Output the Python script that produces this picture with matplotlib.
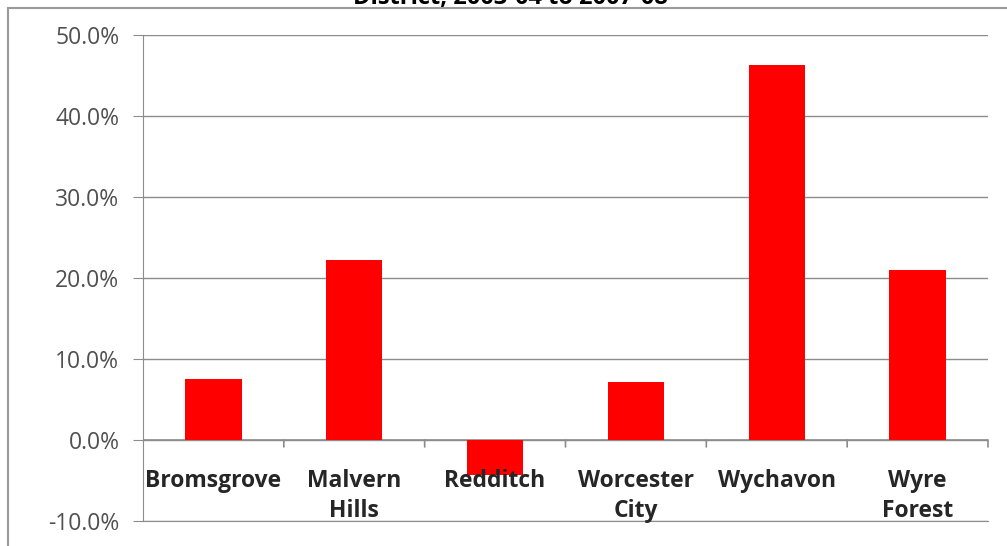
import matplotlib.pyplot as plt
from matplotlib.patches import Rectangle
from matplotlib.ticker import FuncFormatter

plt.rcParams['font.family'] = ['Open Sans', 'DejaVu Sans']

districts = ['Bromsgrove', 'Malvern\nHills', 'Redditch', 'Worcester\nCity', 'Wychavon', 'Wyre\nForest']
change_pct = [7.5, 22.2, -4.3, 7.2, 46.3, 21.0]
title = 'District, 2003-04 to 2007-08'

fig = plt.figure(figsize=(10.07, 5.46), dpi=100)

# chart frame (left edge and rule under the title)
fig.patches.append(Rectangle((8 / 1007, -0.1), 1.2, 1.1 - 8 / 546, transform=fig.transFigure,
                             fill=False, edgecolor='#9a9a9a', linewidth=1.5, zorder=0))
fig.text(0.507, 1 - 4 / 546, title, ha='center', va='baseline', fontsize=17, fontweight='bold')

ax = fig.add_axes([143 / 1007, 1 - 521 / 546, (988 - 143) / 1007, (521 - 35) / 546])
x = range(len(districts))
ax.bar(x, change_pct, width=0.4, color='#ff0000', zorder=3)

ax.set_xlim(-0.5, len(districts) - 0.5)
ax.set_ylim(-10, 50)
ax.set_yticks(range(-10, 51, 10))
ax.yaxis.set_major_formatter(FuncFormatter(lambda v, p: f'{v:.1f}%'))
ax.tick_params(axis='y', length=7, color='#8c8c8c', labelsize=16.5, labelcolor='#505050', pad=10)
ax.grid(axis='y', color='#8c8c8c', linewidth=1, zorder=1)
ax.set_xticks([])

for s in ['top', 'right']:
    ax.spines[s].set_visible(False)
for s in ['left', 'bottom']:
    ax.spines[s].set_color('#8c8c8c')

# zero line with category boundary ticks
ax.axhline(0, color='#8c8c8c', linewidth=1.2, zorder=2)
for b in range(1, len(districts) + 1):
    ax.annotate('', xy=(b - 0.5, 0), xytext=(0, -5), textcoords='offset points',
                arrowprops=dict(arrowstyle='-', color='#8c8c8c', lw=1.2, shrinkA=0, shrinkB=0))

for i, name in enumerate(districts):
    ax.annotate(name, xy=(i, 0), xytext=(0, -21), textcoords='offset points',
                ha='center', va='top', fontsize=16.5, fontweight='bold', color='#262626',
                linespacing=1.3)

fig.savefig('out.png', dpi=100)
